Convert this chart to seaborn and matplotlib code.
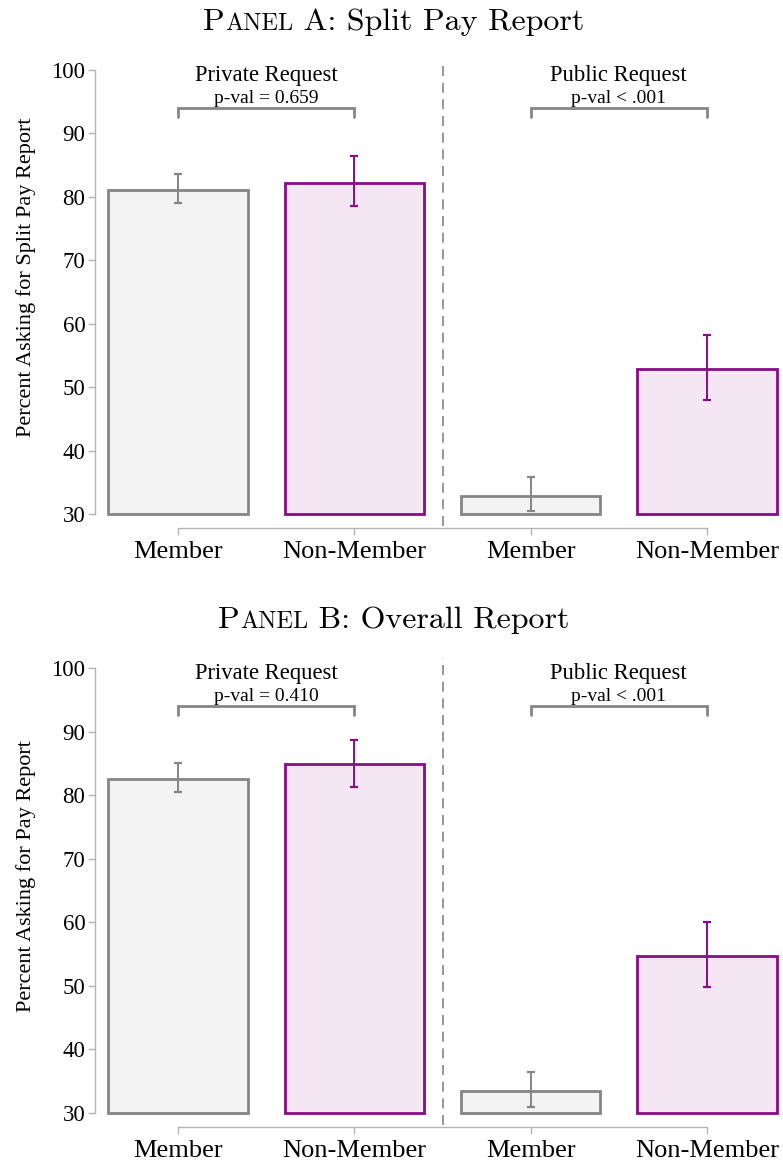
import numpy as np
import pandas as pd
import matplotlib
matplotlib.use("Agg")
import matplotlib.pyplot as plt
import seaborn as sns
from matplotlib.offsetbox import TextArea, HPacker, AnchoredOffsetbox

sns.set_theme(style="white")
plt.rcParams["font.family"] = ["Liberation Serif", "DejaVu Serif"]
plt.rcParams["text.color"] = "black"
plt.rcParams["axes.labelcolor"] = "black"

# Conditions (request type x membership)
conditions = ["Private-Member", "Private-Non-Member", "Public-Member", "Public-Non-Member"]
membership = ["Member", "Non-Member", "Member", "Non-Member"]
tick_labels = ["Member", "Non-Member", "Member", "Non-Member"]
request_labels = ["Private Request", "Public Request"]

# Panel A: split pay report (mean and 95% CI)
split_mean = [81.1, 82.2, 32.8, 52.9]
split_lo = [79.1, 78.6, 30.4, 48.0]
split_hi = [83.6, 86.4, 35.8, 58.3]
split_pvals = ["p-val = 0.659", "p-val < .001"]

# Panel B: overall pay report (mean and 95% CI)
overall_mean = [82.6, 84.9, 33.5, 54.7]
overall_lo = [80.5, 81.3, 31.0, 49.8]
overall_hi = [85.0, 88.6, 36.5, 60.0]
overall_pvals = ["p-val = 0.410", "p-val < .001"]

AXIS_FLOOR = 30  # y-axis starts here; bars are drawn up from the floor

fill = {"Member": "#f3f3f3", "Non-Member": "#f4e7f3"}
edge = {"Member": "#858585", "Non-Member": "#8a0a8a"}
GREY = "#858585"
SPINE = "#b4b4b4"

W, H = 783, 1169
fig = plt.figure(figsize=(W / 100, H / 100), dpi=100)


def px_axes(left, right, top, bottom):
    return fig.add_axes([left / W, 1 - bottom / H, (right - left) / W, (bottom - top) / H])


def draw_panel(ax, means, lo, hi, pvals, ylabel):
    df = pd.DataFrame({"cond": conditions, "member": membership, "val": means})
    sns.barplot(data=df, x="cond", y="val", hue="member", order=conditions,
                hue_order=["Member", "Non-Member"], dodge=False, width=0.79,
                palette=fill, errorbar=None, legend=False, ax=ax, linewidth=2.0)
    for cont, lvl in zip(ax.containers, ["Member", "Non-Member"]):
        for bar in cont:
            top = bar.get_y() + bar.get_height()
            bar.set_y(AXIS_FLOOR)
            bar.set_height(top - AXIS_FLOOR)
            bar.set_edgecolor(edge[lvl])
            bar.set_facecolor(fill[lvl])
            bar.set_linewidth(2.0)
    means = np.array(means)
    lo = np.array(lo)
    hi = np.array(hi)
    for lvl in ["Member", "Non-Member"]:
        idx = [i for i, m in enumerate(membership) if m == lvl]
        ax.errorbar(idx, means[idx], yerr=[means[idx] - lo[idx], hi[idx] - means[idx]],
                    fmt="none", ecolor=edge[lvl], elinewidth=1.4, capsize=3.2,
                    capthick=1.6, zorder=5)

    ax.set_ylim(29.75, 100)
    ax.set_xlim(-0.403, 3.42)
    ax.set_yticks(range(30, 101, 10))
    ax.set_xticks(range(4))
    ax.set_xticklabels(tick_labels)
    ax.set_xlabel("")
    ax.set_ylabel(ylabel, fontsize=16, color="black")
    sns.despine(ax=ax, trim=True)
    for side in ["left", "bottom"]:
        ax.spines[side].set_position(("outward", 9))
        ax.spines[side].set_color(SPINE)
        ax.spines[side].set_linewidth(1.0)
    ax.spines["left"].set_bounds(30, 100)
    ax.spines["bottom"].set_bounds(0, 3)
    ax.tick_params(axis="y", which="major", left=True, length=5, width=1.0,
                   color=SPINE, labelcolor="black", labelsize=16.5, pad=1.5)
    ax.tick_params(axis="x", which="major", bottom=True, length=5, width=1.0,
                   color=SPINE, labelcolor="black", labelsize=19, pad=4)

    # divider between request types
    ax.plot([1.5, 1.5], [28.1, 101.5], color=GREY, lw=1.2, ls=(0, (6, 4)),
            clip_on=False, zorder=1)

    # group headers and significance brackets
    for g, (label, pv) in enumerate(zip(request_labels, pvals)):
        x0, x1 = 2 * g, 2 * g + 1
        ax.plot([x0, x0, x1, x1], [92.6, 94.0, 94.0, 92.6], color=GREY, lw=2.0,
                clip_on=False, solid_joinstyle="miter")
        ax.text((x0 + x1) / 2, 94.85, pv, ha="center", va="baseline", fontsize=14)
        ax.text((x0 + x1) / 2, 98.3, label, ha="center", va="baseline", fontsize=16.3)


def panel_title(letter, rest, y_center):
    big = dict(family="cmr10", size=23, color="black")
    small = dict(family="cmr10", size=17.5, color="black")
    parts = [TextArea("P", textprops=big), TextArea("ANEL", textprops=small),
             TextArea(" " + letter + ": " + rest, textprops=big)]
    box = HPacker(children=parts, align="baseline", pad=0, sep=0)
    anchored = AnchoredOffsetbox(loc="center", child=box, frameon=False,
                                 bbox_to_anchor=(394 / W, 1 - y_center / H),
                                 bbox_transform=fig.transFigure, borderpad=0, pad=0)
    fig.add_artist(anchored)


ax_a = px_axes(107, 781, 70, 515.6)
draw_panel(ax_a, split_mean, split_lo, split_hi, split_pvals,
           "Percent Asking for Split Pay Report")
ax_b = px_axes(107, 781, 668, 1114.6)
draw_panel(ax_b, overall_mean, overall_lo, overall_hi, overall_pvals,
           "Percent Asking for Pay Report")
for ax in (ax_a, ax_b):
    ax.yaxis.set_label_coords(-0.105, 0.535)

panel_title("A", "Split Pay Report", 22)
panel_title("B", "Overall Report", 620)

fig.savefig("out.png", dpi=100)
